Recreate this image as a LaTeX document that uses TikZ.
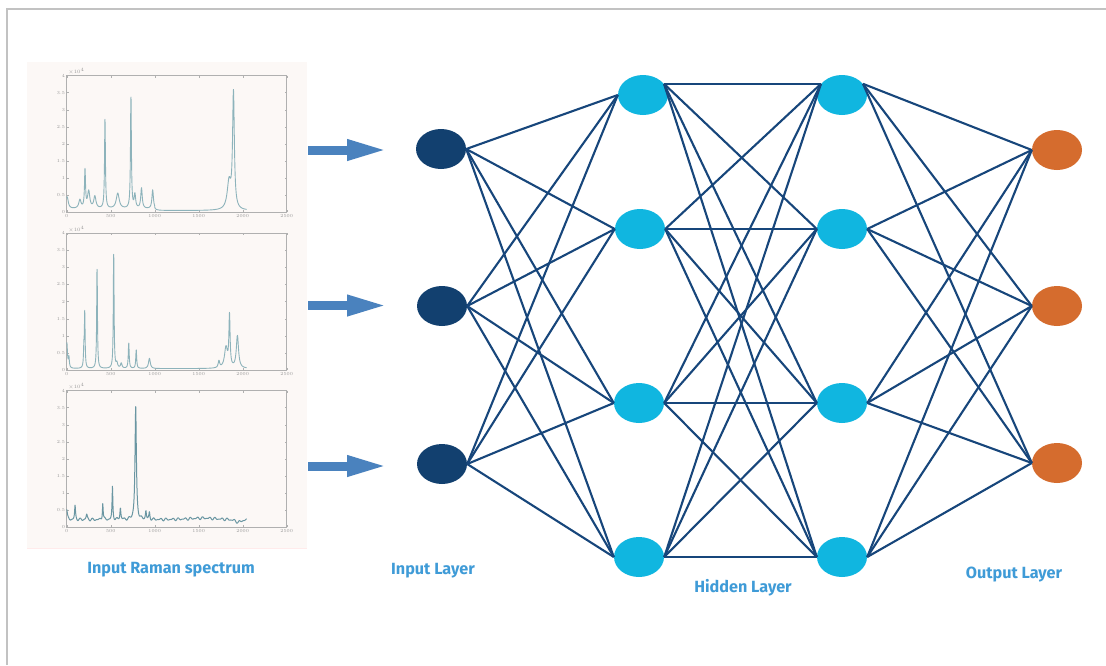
\documentclass[tikz,border=0pt]{standalone}
\usepackage{fontspec}
\setsansfont{Fira Sans}
\usetikzlibrary{shapes.geometric,arrows.meta}
\definecolor{edgec}{HTML}{17467B}
\definecolor{inc}{HTML}{12406F}
\definecolor{hidc}{HTML}{10B6E0}
\definecolor{outc}{HTML}{D56C2E}
\definecolor{labc}{HTML}{3F9BD7}
\definecolor{arrc}{HTML}{4A82BE}
\definecolor{framec}{HTML}{C2C2C2}
\definecolor{specc}{HTML}{8DB3BB}
\definecolor{specd}{HTML}{6A96A2}
\definecolor{axc}{HTML}{B0B0B0}
\definecolor{panelc}{HTML}{FCF8F6}
\begin{document}
\begin{tikzpicture}[x=1pt,y=-1pt,
  neuron/.style={ellipse,minimum width=50pt,minimum height=40pt,inner sep=0pt,draw=none},
  innode/.style={neuron,fill=inc},
  hidnode/.style={neuron,fill=hidc},
  outnode/.style={neuron,fill=outc},
  edge/.style={draw=edgec,line width=2.1pt},
  bigarrow/.style={draw=arrc,line width=9pt,-{Triangle[length=41pt,width=19pt]}},
  lab/.style={text=labc,font=\sffamily\bfseries\fontsize{16.2}{19}\selectfont,inner sep=0pt},
  ticklab/.style={text=gray!80,font=\fontsize{4.6}{5}\selectfont,inner sep=0.6pt},
  declare function={lor(\x,\c,\w,\a)=\a/(1+min(abs(\x-\c)/\w,100)^2);}
]
\useasboundingbox (0,0) rectangle (1106,665);
\fill[white] (0,0) rectangle (1106,665);
% frame
\draw[framec,line width=2pt] (7,665) -- (7,9) -- (1106,9);

% spectra panel
\fill[panelc] (27,62) rectangle (307,548);
\draw[draw=red!8,line width=0.6pt] (27,548) -- (307,548);

% plot frames
\foreach \yb in {212.3,370,527.3}{
\begin{scope}[shift={(66.7,\yb)},x={(8.8pt,0pt)},y={(0pt,34.2pt)}]
  \draw[axc,line width=0.6pt] (0,0) rectangle (25,4);
  \foreach \t/\l in {0/0,5/500,10/1000,15/1500,20/2000,25/2500}{
    \draw[axc,line width=0.4pt] (\t,0) -- ++(0,0.06) (\t,4) -- ++(0,-0.06);
    \node[ticklab,below] at (\t,-0.05) {\l};
  }
  \foreach \t/\l in {0/0,0.5/0.5,1/1,1.5/1.5,2/2,2.5/2.5,3/3,3.5/3.5,4/4}{
    \draw[axc,line width=0.4pt] (0,\t) -- ++(0.25,0) (25,\t) -- ++(-0.25,0);
    \node[ticklab,left] at (-0.1,\t) {\l};
  }
  \node[ticklab,right] at (0.1,4.12) {$\times10^4$};
\end{scope}}

% spectrum 1
\begin{scope}[shift={(66.7,212.3)},x={(8.8pt,0pt)},y={(0pt,34.2pt)}]
\draw[specc,line width=0.9pt,line join=round] plot[domain=0:20.45,samples=650,smooth] (\x,{0.05+0.05*(\x<10)
 +lor(\x,0.05,0.15,0.35)+lor(\x,1.5,0.15,0.25)+lor(\x,2.08,0.07,1.1)+lor(\x,2.5,0.15,0.5)
 +lor(\x,3.2,0.15,0.35)+lor(\x,4.35,0.06,2.6)+lor(\x,5.8,0.2,0.45)+lor(\x,7.3,0.06,3.3)
 +lor(\x,7.75,0.1,0.4)+lor(\x,8.5,0.1,0.6)+lor(\x,9.77,0.1,0.55)+lor(\x,18.45,0.25,0.8)
 +lor(\x,18.95,0.12,3.4)});
\end{scope}
% spectrum 2
\begin{scope}[shift={(66.7,370)},x={(8.8pt,0pt)},y={(0pt,34.2pt)}]
\draw[specc,line width=0.9pt,line join=round] plot[domain=0:20.45,samples=650,smooth] (\x,{0.04
 +lor(\x,0.02,0.08,0.75)+lor(\x,0.25,0.06,0.3)+lor(\x,1.95,0.05,0.5)+lor(\x,2.05,0.05,1.6)
 +lor(\x,3.45,0.05,3.05)+lor(\x,5.34,0.05,3.5)+lor(\x,5.7,0.1,0.15)+lor(\x,6.2,0.1,0.15)
 +lor(\x,7.05,0.06,0.75)+lor(\x,7.9,0.06,0.55)+lor(\x,9.4,0.12,0.3)+lor(\x,17.3,0.1,0.2)
 +lor(\x,18.1,0.2,0.6)+lor(\x,18.5,0.08,1.5)+lor(\x,19.4,0.15,0.95)});
\end{scope}
% spectrum 3
\begin{scope}[shift={(66.7,527.3)},x={(8.8pt,0pt)},y={(0pt,34.2pt)}]
\draw[specd,line width=1pt,line join=round] plot[domain=0:20.45,samples=650] (\x,{0.22
 +0.025*sin(\x*517)+0.018*sin(\x*777)+lor(\x,15.5,2,0.05)-lor(\x,19.5,0.4,0.08)
 +lor(\x,0,0.08,0.3)+lor(\x,0.95,0.06,0.4)+lor(\x,2.27,0.08,0.15)+lor(\x,4.1,0.05,0.5)
 +lor(\x,5.2,0.05,0.95)+lor(\x,6.1,0.06,0.35)+lor(\x,7.84,0.09,3.3)+lor(\x,9.0,0.06,0.25)
 +lor(\x,9.4,0.06,0.2)});
\end{scope}

% big arrows
\coordinate (a1s) at (308,150); \coordinate (a1e) at (388,150);
\coordinate (a2s) at (308,305.5); \coordinate (a2e) at (388,305.5);
\coordinate (a3s) at (308,466); \coordinate (a3e) at (388,466);
\draw[bigarrow] (a1s) -- (a1e);
\draw[bigarrow] (a2s) -- (a2e);
\draw[bigarrow] (a3s) -- (a3e);

% neurons
\node[innode] (in1) at (441,149) {};
\node[innode] (in2) at (442,306) {};
\node[innode] (in3) at (442,464) {};
\node[hidnode] (ha1) at (643,95) {};
\node[hidnode] (ha2) at (640,229) {};
\node[hidnode] (ha3) at (639,403) {};
\node[hidnode] (ha4) at (639,557) {};
\node[hidnode] (hb1) at (842,95) {};
\node[hidnode] (hb2) at (842,229) {};
\node[hidnode] (hb3) at (842,403) {};
\node[hidnode] (hb4) at (842,557) {};
\node[outnode] (o1) at (1057,150) {};
\node[outnode] (o2) at (1057,306) {};
\node[outnode] (o3) at (1057,463) {};

% connection points
\coordinate (haL1) at (ha1.west);
\coordinate (haR1) at (ha1.28);
\coordinate (hbL1) at (hb1.152);
\coordinate (hbR1) at (hb1.28);
\foreach \k in {2,3,4}{
  \coordinate (haL\k) at (ha\k.west);
  \coordinate (haR\k) at (ha\k.east);
  \coordinate (hbL\k) at (hb\k.west);
  \coordinate (hbR\k) at (hb\k.east);
}

% edges
\foreach \i in {1,2,3}{\foreach \j in {1,2,3,4}{\draw[edge] (in\i.east) -- (haL\j);}}
\foreach \i in {1,2,3,4}{\foreach \j in {1,2,3,4}{\draw[edge] (haR\i) -- (hbL\j);}}
\foreach \i in {1,2,3,4}{\foreach \j in {1,2,3}{\draw[edge] (hbR\i) -- (o\j.west);}}

% labels
\node[lab] (l1) at (171,570) {Input Raman spectrum};
\node[lab] (l2) at (433,571) {Input Layer};
\node[lab] (l3) at (743,588) {Hidden Layer};
\node[lab] (l4) at (1014,575) {Output Layer};
\end{tikzpicture}
\end{document}
